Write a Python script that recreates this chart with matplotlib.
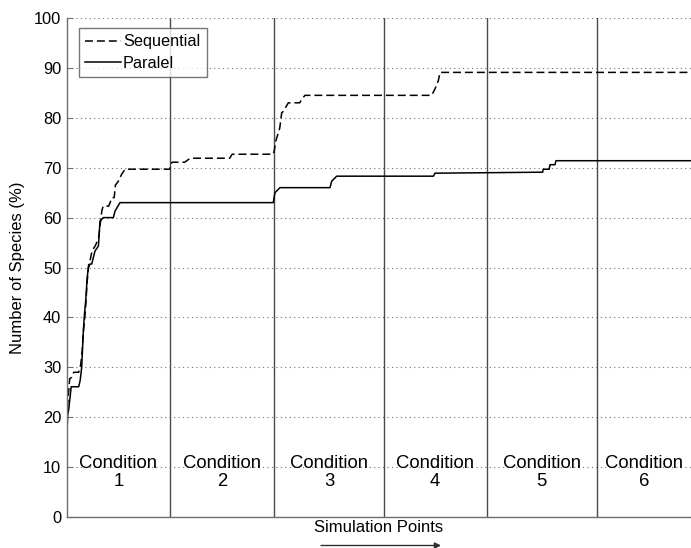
import matplotlib
matplotlib.use("Agg")
import matplotlib.pyplot as plt

plt.rcParams["font.family"] = ["Liberation Sans", "DejaVu Sans"]

# Simulation-point positions and species percentages for each run mode
seq_x = [0, 1.5, 3, 5, 7, 12, 14, 15.5, 16.5, 18.7, 20.3, 22, 23.7, 25.3, 28.7,
         32, 34.7, 35.3, 36.5, 42, 45.3, 47.5, 48.7, 51.7, 55, 58.3, 103, 104,
         105.5, 118, 123.5, 163, 165.5, 206.5, 207.5, 209, 213, 215, 216.7,
         221.6, 233, 235, 238.3, 365, 368.3, 371.7, 373.3, 624.3]
seq_y = [19.5, 24, 27.7, 28, 29, 29, 30.5, 33.3, 36.7, 41.3, 46.7, 50.7, 51.7,
         53.3, 54.4, 56, 60.7, 61.5, 62.3, 62.3, 64, 64, 66.5, 67.3, 68.7, 69.7,
         69.7, 70.7, 71.1, 71.1, 71.9, 71.9, 72.7, 72.7, 73.3, 75.3, 77.9, 81,
         81.3, 83, 83, 83.7, 84.5, 84.5, 85.8, 87.5, 89.1, 89.1]

par_x = [0, 1, 2, 4.5, 12, 13.5, 15, 16.5, 17.5, 19, 20.5, 21.7, 23.3, 25,
         28.3, 31.7, 33.3, 36.7, 46.7, 48.3, 53.3, 206.6, 207.5, 208.3, 213.3,
         263.3, 265, 270, 366.7, 368.3, 476, 476.5, 482.5, 483.3, 488.3, 489.3,
         624.3]
par_y = [15.4, 20.5, 21.5, 26.1, 26.1, 27.4, 30, 36.7, 40, 43.3, 48, 50, 50.7,
         50.7, 53.3, 54.3, 59.3, 60, 60, 61.3, 63, 63, 64.2, 65, 66, 66, 67.3,
         68.3, 68.3, 68.9, 69.1, 69.7, 69.7, 70.6, 70.6, 71.4, 71.4]

# Boundaries between the six operating conditions (simulation points)
cond_edges = [0, 103.3, 207.3, 317.3, 419.8, 530.0, 624.3]
cond_labels = ["Condition\n1", "Condition\n2", "Condition\n3",
               "Condition\n4", "Condition\n5", "Condition\n6"]

y_ticks = list(range(0, 101, 10))

fig = plt.figure(figsize=(6.91, 5.48), dpi=100)
ax = fig.add_axes([66.7 / 691, 31 / 548, 1 - 66.7 / 691, 499 / 548])

ax.plot(seq_x, seq_y, color="black", lw=1.1, linestyle=(0, (5.2, 2.6)),
        label="Sequential")
ax.plot(par_x, par_y, color="black", lw=1.1, label="Paralel")

for xb in cond_edges[1:-1]:
    ax.axvline(xb, color="#4a4a4a", lw=1.0, zorder=1)

for i, lab in enumerate(cond_labels):
    xc = 0.5 * (cond_edges[i] + cond_edges[i + 1])
    ax.text(xc, 8.9, lab, ha="center", va="center", fontsize=13.3,
            linespacing=1.05, zorder=3)

ax.set_xlim(cond_edges[0], cond_edges[-1])
ax.set_ylim(0, 100)
ax.set_yticks(y_ticks)
ax.set_xticks([])
ax.yaxis.grid(True, color="#707070", linestyle=(0, (1, 3)), lw=0.8)
ax.set_axisbelow(True)

for side in ("top", "right"):
    ax.spines[side].set_visible(False)
for side in ("left", "bottom"):
    ax.spines[side].set_color("#6e6e6e")
    ax.spines[side].set_linewidth(1.0)

ax.tick_params(axis="y", direction="in", length=4, width=0.8,
               color="#6e6e6e", labelsize=11.8, pad=4)

ax.set_ylabel("Number of Species (%)", fontsize=12)
ax.yaxis.set_label_coords(-0.066, 0.5)
ax.set_xlabel("Simulation Points", fontsize=12, labelpad=2)

leg = ax.legend(loc="upper left", bbox_to_anchor=(0.0197, 0.98),
                borderaxespad=0, fancybox=False, fontsize=11.7,
                handlelength=2.2, handletextpad=0.1, borderpad=0.4,
                labelspacing=0.4)
leg.get_frame().set_edgecolor("#555555")
leg.get_frame().set_linewidth(1.0)

ax.annotate("", xy=(441 / 691, 2.5 / 548), xytext=(321 / 691, 2.5 / 548),
            xycoords="figure fraction", textcoords="figure fraction",
            arrowprops=dict(arrowstyle="-|>", color="#303030", lw=1.0,
                            mutation_scale=9, shrinkA=0, shrinkB=0))

fig.savefig("out.png", dpi=100)
